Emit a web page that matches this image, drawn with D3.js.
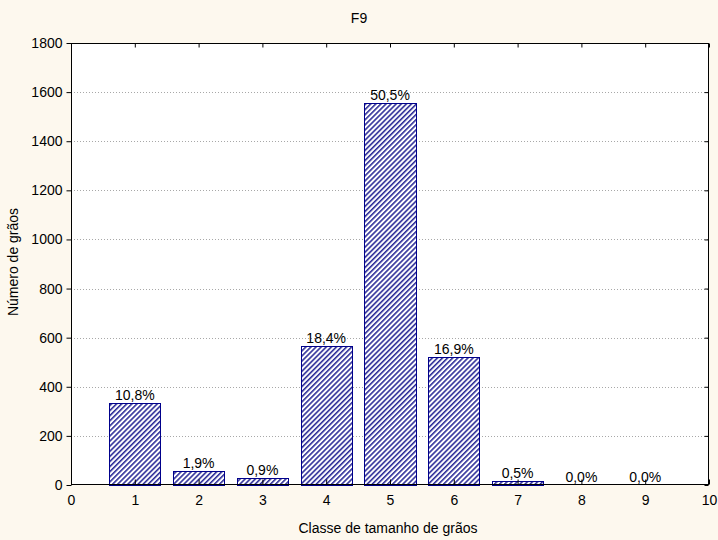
<!DOCTYPE html>
<html>
<head>
<meta charset="utf-8">
<script src="https://cdn.jsdelivr.net/npm/d3@7"></script>
<style>
  html, body { margin: 0; padding: 0; background: #fdf8ee; }
  svg { display: block; font-family: Arial, "Liberation Sans", sans-serif; }
</style>
</head>
<body>
<svg id="chart" width="718" height="540"></svg>
<script>
// ---- data ----
const title = "F9";
const xLabel = "Classe de tamanho de grãos";
const yLabel = "Número de grãos";
const classes = [1, 2, 3, 4, 5, 6, 7, 8, 9];
const counts = [333, 59, 28, 568, 1557, 522, 15, 0, 0];
const xTicks = [0, 1, 2, 3, 4, 5, 6, 7, 8, 9, 10];
const yTicks = [0, 200, 400, 600, 800, 1000, 1200, 1400, 1600, 1800];

const W = 718, H = 540;
const m = { left: 71, right: 9, top: 43, bottom: 55 };
const svg = d3.select("#chart");

svg.append("rect").attr("width", W).attr("height", H).attr("fill", "#fdf8ee");

const x = d3.scaleLinear().domain([0, 10]).range([m.left, W - m.right]);
const y = d3.scaleLinear().domain([0, 1800]).range([H - m.bottom, m.top]);

// plot background
svg.append("rect")
  .attr("x", x(0)).attr("y", y(1800))
  .attr("width", x(10) - x(0)).attr("height", y(0) - y(1800))
  .attr("fill", "#ffffff");

// hatch pattern
const defs = svg.append("defs");
const pat = defs.append("pattern")
  .attr("id", "hatch")
  .attr("patternUnits", "userSpaceOnUse")
  .attr("width", 3.6).attr("height", 3.6)
  .attr("patternTransform", "rotate(45)");
pat.append("rect").attr("width", 3.6).attr("height", 3.6).attr("fill", "#ffffff");
pat.append("line")
  .attr("x1", 0.8).attr("y1", 0).attr("x2", 0.8).attr("y2", 3.6)
  .attr("stroke", "#10108a").attr("stroke-width", 1.4);

// grid lines
svg.append("g").selectAll("line")
  .data(yTicks.filter(t => t > 0 && t < 1800))
  .join("line")
  .attr("x1", x(0)).attr("x2", x(10))
  .attr("y1", d => Math.round(y(d)) + 0.5).attr("y2", d => Math.round(y(d)) + 0.5)
  .attr("stroke", "#a8a8a8").attr("stroke-width", 1)
  .attr("stroke-dasharray", "1,2");

// bars
const total = d3.sum(counts);
const barW = 0.8;
const data = classes.map((c, i) => ({ c, v: counts[i] }));
svg.append("g").selectAll("rect")
  .data(data.filter(d => d.v > 0))
  .join("rect")
  .attr("x", d => Math.round(x(d.c - barW / 2)) + 0.5)
  .attr("y", d => Math.round(y(d.v)) + 0.5)
  .attr("width", d => Math.round(x(d.c + barW / 2)) - Math.round(x(d.c - barW / 2)))
  .attr("height", d => Math.round(y(0)) - Math.round(y(d.v)))
  .attr("fill", "url(#hatch)")
  .attr("stroke", "#00008b").attr("stroke-width", 1);

// percent labels
const fmt = v => (v / total * 100).toFixed(1).replace(".", ",") + "%";
svg.append("g").selectAll("text")
  .data(data)
  .join("text")
  .attr("x", d => x(d.c))
  .attr("y", d => y(d.v) - 3)
  .attr("text-anchor", "middle")
  .attr("font-size", 14)
  .attr("fill", "#000")
  .text(d => fmt(d.v));

// frame
svg.append("rect")
  .attr("x", x(0) + 0.5).attr("y", y(1800) + 0.5)
  .attr("width", x(10) - x(0) - 1).attr("height", y(0) - y(1800) - 1)
  .attr("fill", "none").attr("stroke", "#000").attr("stroke-width", 1);

// axes
const yAxis = d3.axisLeft(y).tickValues(yTicks).tickFormat(d3.format("d")).tickSize(5).tickPadding(4);
const gy = svg.append("g").attr("transform", `translate(${x(0) + 0.5},0)`).call(yAxis);
const yRight = d3.axisRight(y).tickValues(yTicks).tickSize(-4).tickFormat("");
const gyr = svg.append("g").attr("transform", `translate(${x(10) - 0.5},0)`).call(yRight);
const xAxis = d3.axisBottom(x).tickValues(xTicks).tickFormat(d3.format("d")).tickSize(-5).tickPadding(11);
const gx = svg.append("g").attr("transform", `translate(0,${y(0) - 0.5})`).call(xAxis);
const xTop = d3.axisTop(x).tickValues(xTicks).tickSize(-4).tickFormat("");
const gxt = svg.append("g").attr("transform", `translate(0,${y(1800) + 0.5})`).call(xTop);

[gy, gyr, gx, gxt].forEach(g => {
  g.select(".domain").remove();
  g.selectAll("line").attr("stroke", "#000");
  g.selectAll("text").attr("font-size", 14).attr("fill", "#000")
    .attr("font-family", "Arial, 'Liberation Sans', sans-serif");
});

// titles
svg.append("text")
  .attr("x", 359).attr("y", 23)
  .attr("text-anchor", "middle").attr("font-size", 14)
  .text(title);
svg.append("text")
  .attr("x", (x(0) + x(10)) / 2 - 2).attr("y", 533)
  .attr("text-anchor", "middle").attr("font-size", 14)
  .text(xLabel);
svg.append("text")
  .attr("transform", "translate(18,262) rotate(-90)")
  .attr("text-anchor", "middle").attr("font-size", 14)
  .text(yLabel);
</script>
</body>
</html>
